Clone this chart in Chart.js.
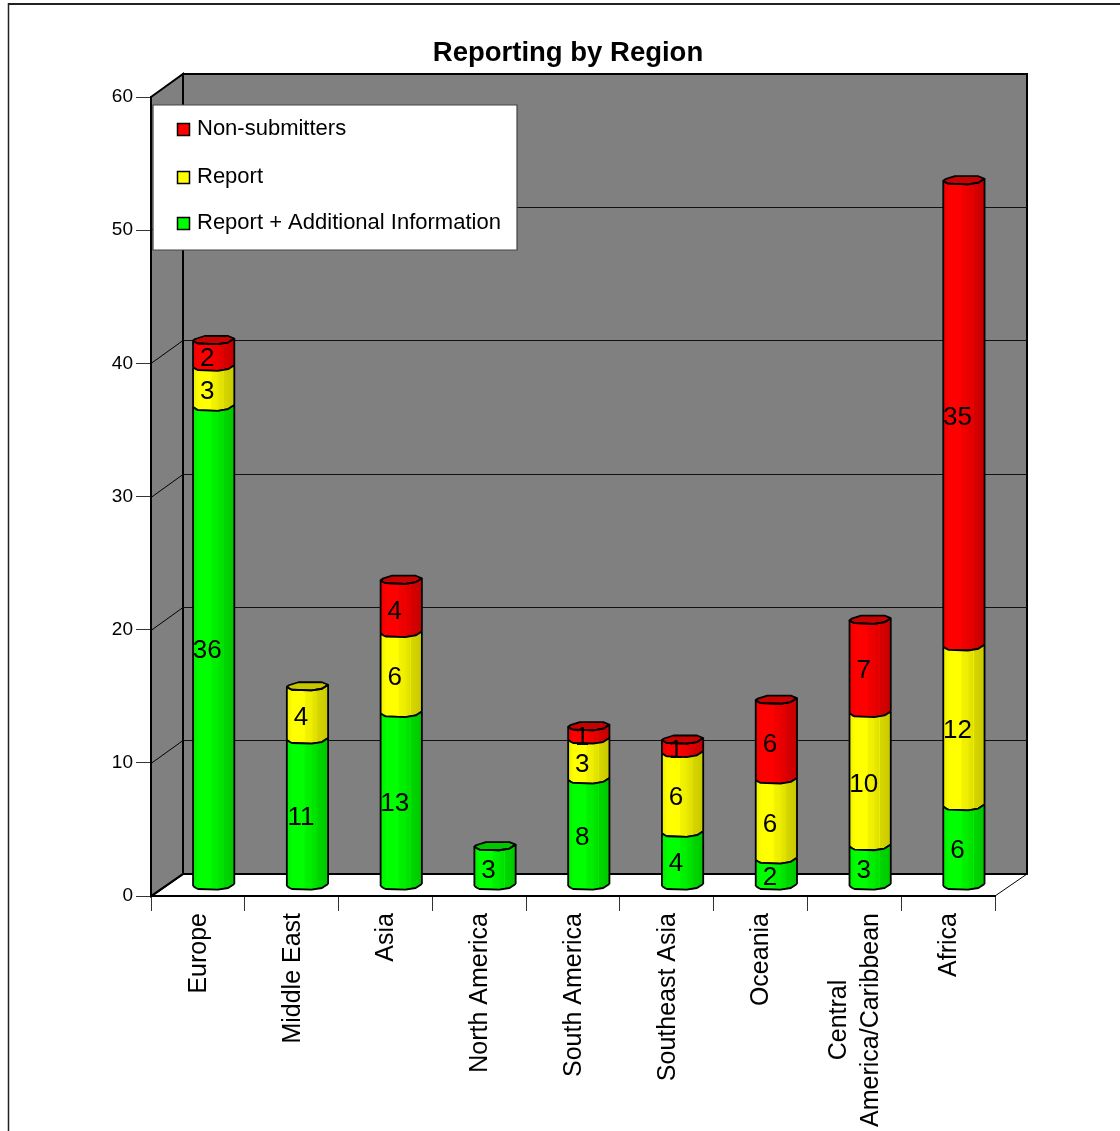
<!DOCTYPE html>
<html>
<head>
<meta charset="utf-8">
<title>Reporting by Region</title>
<style>
  html, body { margin: 0; padding: 0; background: #fff; overflow: hidden; }
  canvas { display: block; }
</style>
<script src="https://cdn.jsdelivr.net/npm/chart.js@4/dist/chart.umd.js"></script>
</head>
<body>
<canvas id="chart" width="1120" height="1131"></canvas>
<script>
// Values per region, stacked bottom to top.
const categories = [
  ['Europe'], ['Middle East'], ['Asia'], ['North America'], ['South America'],
  ['Southeast Asia'], ['Oceania'], ['Central', 'America/Caribbean'], ['Africa']
];
const reportPlusInfo = [36, 11, 13, 3, 8, 4, 2, 3, 6];
const reportOnly     = [3, 4, 6, 0, 3, 6, 6, 10, 12];
const nonSubmitters  = [2, 0, 4, 0, 1, 1, 6, 7, 35];
const yTicks = [0, 10, 20, 30, 40, 50, 60];
const seriesNames = ['Report + Additional Information', 'Report', 'Non-submitters'];
const seriesColors = ['#00ff00', '#ffff00', '#ff0000'];
const seriesValues = [reportPlusInfo, reportOnly, nonSubmitters];

const FONT = '"Liberation Sans", Arial, sans-serif';
const DEPTH = { x: 32, y: -22 };           // floor depth from the front plane
const WALL_RISE = -23;                     // the back wall's gridlines sit a pixel higher
const BAR_SHIFT = { x: 15.8, y: -10.5 };   // bars stand mid-way across the floor

// Facets of the cylinder cross-section: (fraction of width, vertical offset).
const NEAR_EDGE = [[0, 1], [.07, 3], [.12, 4], [.6, 4.7], [.85, 3], [1, -1]];
const FAR_EDGE  = [[0, 1], [.05, -.5], [.28, -3.5], [.85, -3.5], [1, -1]];
const SHADE_STOPS = [[0, .92], [.06, .96], [.14, 1], [.42, 1], [.46, .95], [.6, .93],
                     [.63, .90], [.72, .88], [.73, .95], [.745, .84], [.85, .82], [1, .78]];

function shade(hex, f) {
  const n = parseInt(hex.slice(1), 16);
  const c = [(n >> 16) & 255, (n >> 8) & 255, n & 255].map(v => Math.round(v * f));
  return `rgb(${c[0]},${c[1]},${c[2]})`;
}

function traceEdge(ctx, edge, left, width, y, reverse) {
  const pts = reverse ? [...edge].reverse() : edge;
  pts.forEach(([u, dy], i) => {
    const px = left + u * width, py = y + dy;
    if (i === 0 && !reverse) ctx.moveTo(px, py); else ctx.lineTo(px, py);
  });
}

// Bars are rendered as faceted cylinders, positioned by the bar controller.
Chart.BarElement.prototype.draw = function (ctx) {
  const { x, y, base, width, seriesIndex, regionIndex } = this;
  if (Math.abs(base - y) < 0.5) return;
  const color = seriesColors[seriesIndex];
  const left = x - width / 2 + BAR_SHIFT.x;
  const top = y + BAR_SHIFT.y, bottom = base + BAR_SHIFT.y;
  const isTop = seriesValues.slice(seriesIndex + 1).every(s => !s[regionIndex]);
  const lastEdge = NEAR_EDGE.length - 1;

  ctx.save();
  ctx.lineJoin = 'round';
  ctx.lineWidth = 1.8;
  ctx.strokeStyle = '#000';

  const grad = ctx.createLinearGradient(left, 0, left + width, 0);
  SHADE_STOPS.forEach(([p, f]) => grad.addColorStop(p, shade(color, f)));
  ctx.beginPath();
  traceEdge(ctx, NEAR_EDGE, left, width, top, false);
  traceEdge(ctx, NEAR_EDGE, left, width, bottom, true);
  ctx.closePath();
  ctx.fillStyle = grad;
  ctx.fill();

  if (isTop) {
    ctx.beginPath();
    traceEdge(ctx, NEAR_EDGE, left, width, top, false);
    traceEdge(ctx, FAR_EDGE, left, width, top, true);
    ctx.closePath();
    ctx.fillStyle = shade(color, 0.78);
    ctx.fill();
    ctx.stroke();
  }

  // Outline: both rims and the two sides.
  ctx.beginPath();
  ctx.moveTo(left, top + NEAR_EDGE[0][1]);
  ctx.lineTo(left, bottom + NEAR_EDGE[0][1]);
  ctx.moveTo(left + width, top + NEAR_EDGE[lastEdge][1]);
  ctx.lineTo(left + width, bottom + NEAR_EDGE[lastEdge][1]);
  traceEdge(ctx, NEAR_EDGE, left, width, top, false);
  traceEdge(ctx, NEAR_EDGE, left, width, bottom, false);
  ctx.stroke();
  ctx.restore();
};

function polygon(ctx, pts, fill, stroke, lw) {
  ctx.beginPath();
  pts.forEach(([x, y], i) => i ? ctx.lineTo(x, y) : ctx.moveTo(x, y));
  ctx.closePath();
  if (fill) { ctx.fillStyle = fill; ctx.fill(); }
  if (stroke) { ctx.strokeStyle = stroke; ctx.lineWidth = lw; ctx.stroke(); }
}

function line(ctx, x1, y1, x2, y2, color, lw) {
  ctx.beginPath();
  ctx.moveTo(x1, y1);
  ctx.lineTo(x2, y2);
  ctx.strokeStyle = color;
  ctx.lineWidth = lw;
  ctx.stroke();
}

// Page frame, back wall, side wall, floor and the gridlines wrapping round them.
const roomPlugin = {
  id: 'room',
  // The heading is centred on the span from just left of the axis to the plot's right edge.
  afterLayout(chart) {
    chart.titleBlock.left = 141;
    chart.titleBlock.right = chart.chartArea.right;
  },
  beforeDraw(chart) {
    const { ctx, chartArea: a, scales } = chart;
    const d = DEPTH;
    const wallTop = a.top + WALL_RISE, wallBottom = a.bottom + d.y;
    ctx.save();
    ctx.fillStyle = '#fff';
    ctx.fillRect(0, 0, chart.width, chart.height);
    line(ctx, 8, 4, chart.width, 4, '#222', 2);
    line(ctx, 8.5, 3, 8.5, chart.height, '#222', 1.5);

    polygon(ctx, [[a.left, a.bottom], [a.left + d.x, wallBottom], [a.right + d.x, wallBottom], [a.right, a.bottom]], '#fff', null);
    polygon(ctx, [[a.left + d.x, wallTop], [a.right + d.x, wallTop], [a.right + d.x, wallBottom], [a.left + d.x, wallBottom]], '#808080', '#000', 2);
    polygon(ctx, [[a.left, a.top], [a.left + d.x, wallTop], [a.left + d.x, wallBottom], [a.left, a.bottom]], '#808080', '#000', 2);

    yTicks.forEach(v => {
      const y = Math.round(scales.y.getPixelForValue(v)) + 0.5;
      if (v === 60) return;
      if (v > 0) line(ctx, a.left + d.x, y + WALL_RISE, a.right + d.x, y + WALL_RISE, '#111', 1);
      line(ctx, a.left, y, a.left + d.x, v === 0 ? wallBottom : y + WALL_RISE, '#000', v === 0 ? 2 : 1);
    });
    line(ctx, a.right, a.bottom, a.right + d.x, wallBottom, '#000', 1);
    line(ctx, a.left + d.x, wallBottom, a.right + d.x, wallBottom, '#000', 1.5);
    ctx.restore();
  },
  // Tell each bar which series and region it belongs to before it is painted.
  beforeDatasetsDraw(chart) {
    seriesValues.forEach((values, ds) => {
      chart.getDatasetMeta(ds).data.forEach((bar, i) => {
        bar.seriesIndex = ds;
        bar.regionIndex = i;
      });
    });
  }
};

// Value labels, region names and the legend box.
const annotationPlugin = {
  id: 'annotations',
  afterDatasetsDraw(chart) {
    const { ctx, scales } = chart;
    ctx.save();
    ctx.fillStyle = '#000';

    // Value inside each segment
    ctx.font = `26px ${FONT}`;
    ctx.textAlign = 'center';
    ctx.textBaseline = 'middle';
    seriesValues.forEach((values, ds) => {
      const meta = chart.getDatasetMeta(ds);
      values.forEach((v, i) => {
        if (!v) return;
        const bar = meta.data[i];
        ctx.fillText(String(v), bar.x + BAR_SHIFT.x - 6.5, (bar.y + bar.base) / 2 - 5);
      });
    });

    // Region names, read bottom to top, hanging from the axis; wrapped lines are centred
    ctx.font = `25px ${FONT}`;
    const labelTop = 913, lineGap = 32;
    categories.forEach((lines, i) => {
      const cx = scales.x.getPixelForTick(i) + 1;
      const longest = Math.max(...lines.map(t => ctx.measureText(t).width));
      lines.forEach((text, n) => {
        ctx.save();
        ctx.translate(cx + (n - (lines.length - 1) / 2) * lineGap, labelTop + longest / 2);
        ctx.rotate(-Math.PI / 2);
        ctx.fillText(text, 0, 0);
        ctx.restore();
      });
    });

    // Legend
    polygon(ctx, [[153, 105], [517, 105], [517, 250], [153, 250]], '#fff', '#444', 1.2);
    ctx.font = `22px ${FONT}`;
    ctx.textAlign = 'left';
    const legendRows = [128, 176, 222];
    [...seriesNames].reverse().forEach((name, i) => {
      const y = legendRows[i];
      ctx.fillStyle = [...seriesColors].reverse()[i];
      ctx.strokeStyle = '#000';
      ctx.lineWidth = 1.5;
      ctx.fillRect(177.5, y - 4.5, 12, 12);
      ctx.strokeRect(177.5, y - 4.5, 12, 12);
      ctx.fillStyle = '#000';
      ctx.fillText(name, 197, y + 1);
    });
    ctx.restore();
  }
};

new Chart(document.getElementById('chart'), {
  type: 'bar',
  data: {
    labels: categories,
    datasets: seriesNames.map((name, i) => ({
      label: name,
      data: seriesValues[i],
      backgroundColor: seriesColors[i],
      categoryPercentage: 1,
      barPercentage: 0.44
    }))
  },
  options: {
    responsive: false,
    animation: false,
    layout: { padding: { left: 0, right: 125, top: 0, bottom: 0 } },
    plugins: {
      legend: { display: false },
      tooltip: { enabled: false },
      title: {
        display: true,
        text: 'Reporting by Region',
        color: '#000',
        font: { family: FONT, size: 27.5, weight: 'bold', lineHeight: 1.2 },
        padding: { top: 36.5, bottom: 27.5 }
      }
    },
    scales: {
      x: {
        stacked: true,
        afterFit: s => { s.height = 235; },
        ticks: { display: false },
        grid: { offset: true, drawOnChartArea: false, tickLength: 15, color: '#333' },
        border: { color: '#000', width: 2 }
      },
      y: {
        stacked: true,
        min: 0,
        max: 60,
        afterFit: s => { s.width = 151; },
        ticks: { stepSize: 10, color: '#000', padding: 3, font: { family: FONT, size: 19 } },
        grid: { drawOnChartArea: false, tickLength: 15, color: '#333' },
        border: { color: '#000', width: 2 }
      }
    }
  },
  plugins: [roomPlugin, annotationPlugin]
});
</script>
</body>
</html>
